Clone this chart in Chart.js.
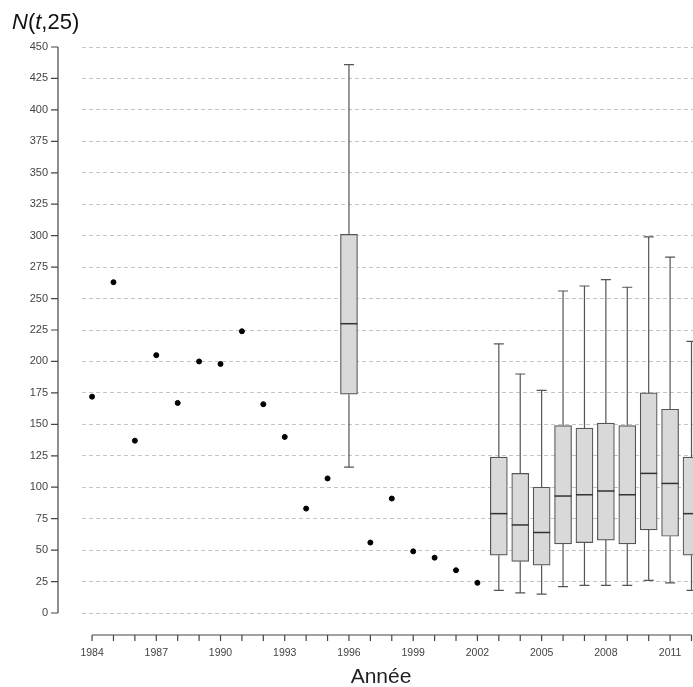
<!DOCTYPE html>
<html>
<head>
<meta charset="utf-8">
<script src="https://cdn.jsdelivr.net/npm/chart.js@4/dist/chart.umd.min.js"></script>
<style>
  html, body { margin: 0; padding: 0; background: #fff; overflow: hidden; }
  #wrap { width: 693px; height: 687px; position: relative; }
  canvas { display: block; }
</style>
</head>
<body>
<div id="wrap"><canvas id="chart"></canvas></div>
<script>
// Single years (points)
const pointYears = [1984, 1985, 1986, 1987, 1988, 1989, 1990, 1991, 1992, 1993, 1994, 1995,
                    1997, 1998, 1999, 2000, 2001, 2002];
const pointValues = [172, 263, 137, 205, 167, 200, 198, 224, 166, 140, 83, 107,
                     56, 91, 49, 44, 34, 24];

// Years with a distribution (boxplots)
const boxYears  = [1996, 2003, 2004, 2005, 2006, 2007, 2008, 2009, 2010, 2011, 2012];
const boxLow    = [116, 18, 16, 15, 21, 22, 22, 22, 26, 24, 18];
const boxQ1     = [174, 46, 41, 38, 55, 56, 58, 55, 66, 61, 46];
const boxMedian = [230, 79, 70, 64, 93, 94, 97, 94, 111, 103, 79];
const boxQ3     = [301, 124, 111, 100, 149, 147, 151, 149, 175, 162, 124];
const boxHigh   = [436, 214, 190, 177, 256, 260, 265, 259, 299, 283, 216];

const allYears = [];
for (let y = 1984; y <= 2012; y++) allYears.push(y);
const yTicks = [];
for (let v = 0; v <= 450; v += 25) yTicks.push(v);

const FONT = "'Liberation Sans', Arial, sans-serif";
const AXIS_COLOR = "#444";

// whiskers, medians, R-style detached axes and the title
const boxExtras = {
  id: "boxExtras",
  beforeDatasetsDraw(chart) {
    const { ctx, scales: { x, y } } = chart;
    ctx.save();
    ctx.strokeStyle = "#555";
    ctx.lineWidth = 1.2;
    boxYears.forEach((yr, i) => {
      const px = x.getPixelForValue(yr);
      ctx.beginPath();
      ctx.moveTo(px, y.getPixelForValue(boxQ3[i]));
      ctx.lineTo(px, y.getPixelForValue(boxHigh[i]));
      ctx.moveTo(px, y.getPixelForValue(boxQ1[i]));
      ctx.lineTo(px, y.getPixelForValue(boxLow[i]));
      ctx.moveTo(px - 5, y.getPixelForValue(boxHigh[i]));
      ctx.lineTo(px + 5, y.getPixelForValue(boxHigh[i]));
      ctx.moveTo(px - 5, y.getPixelForValue(boxLow[i]));
      ctx.lineTo(px + 5, y.getPixelForValue(boxLow[i]));
      ctx.stroke();
    });
    ctx.restore();
  },
  afterDatasetsDraw(chart) {
    const { ctx, scales: { x, y } } = chart;
    ctx.save();
    ctx.strokeStyle = "#333";
    ctx.lineWidth = 1.5;
    boxYears.forEach((yr, i) => {
      const px = x.getPixelForValue(yr);
      const py = y.getPixelForValue(boxMedian[i]);
      ctx.beginPath();
      ctx.moveTo(px - 8.5, py);
      ctx.lineTo(px + 8.5, py);
      ctx.stroke();
    });
    ctx.restore();
  },
  afterDraw(chart) {
    const { ctx, chartArea, scales: { x, y } } = chart;
    ctx.save();
    ctx.strokeStyle = AXIS_COLOR;
    ctx.lineWidth = 1.2;

    // y axis, pulled left of the plot region
    const ax = chartArea.left - 24;
    ctx.beginPath();
    ctx.moveTo(ax, y.getPixelForValue(0));
    ctx.lineTo(ax, y.getPixelForValue(450));
    yTicks.forEach(v => {
      const py = y.getPixelForValue(v);
      ctx.moveTo(ax - 7, py);
      ctx.lineTo(ax, py);
    });
    ctx.stroke();

    // x axis, pushed below the plot region
    const ay = chartArea.bottom + 22;
    ctx.beginPath();
    ctx.moveTo(x.getPixelForValue(1984), ay);
    ctx.lineTo(x.getPixelForValue(2012), ay);
    allYears.forEach(yr => {
      const px = x.getPixelForValue(yr);
      ctx.moveTo(px, ay);
      ctx.lineTo(px, ay + 6);
    });
    ctx.stroke();

    // title N(t,25), with italic N and t
    const parts = [["N", true], ["(", false], ["t", true], [",25)", false]];
    let tx = 12;
    ctx.fillStyle = "#111";
    ctx.textBaseline = "alphabetic";
    parts.forEach(([txt, it]) => {
      ctx.font = (it ? "italic " : "") + "22px " + FONT;
      ctx.fillText(txt, tx, 29);
      tx += ctx.measureText(txt).width;
    });

    // axis title, placed as in the original
    ctx.font = "21px " + FONT;
    ctx.fillStyle = "#222";
    ctx.textAlign = "center";
    ctx.fillText("Année", 381, 683);
    ctx.restore();
  }
};

new Chart(document.getElementById("chart"), {
  type: "bar",
  data: {
    datasets: [
      {
        type: "bar",
        data: boxYears.map((yr, i) => ({ x: yr, y: [boxQ1[i], boxQ3[i]] })),
        backgroundColor: "#d9d9d9",
        borderColor: "#555",
        borderWidth: 1.2,
        borderSkipped: false,
        barThickness: 17
      },
      {
        type: "scatter",
        data: pointYears.map((yr, i) => ({ x: yr, y: pointValues[i] })),
        backgroundColor: "#000",
        borderColor: "#000",
        pointRadius: 2.5,
        pointHoverRadius: 2.5
      }
    ]
  },
  options: {
    responsive: true,
    maintainAspectRatio: false,
    animation: false,
    layout: { autoPadding: false, padding: { top: 47, right: 0, left: 0, bottom: 0 } },
    plugins: {
      legend: { display: false },
      tooltip: { enabled: false }
    },
    scales: {
      x: {
        type: "linear",
        offset: false,
        min: 1983.53,
        max: 2012.07,
        afterBuildTicks: s => { s.ticks = allYears.map(v => ({ value: v })); },
        afterFit: s => { s.height = 74; s.paddingLeft = 0; s.paddingRight = 0; },
        grid: { display: false, drawTicks: false },
        border: { display: false },
        ticks: {
          autoSkip: false,
          maxRotation: 0,
          padding: 34,
          color: AXIS_COLOR,
          font: { family: FONT, size: 10.5 },
          callback: v => ((v - 1984) % 3 === 0 ? String(v) : "")
        }
      },
      y: {
        min: 0,
        max: 450,
        afterBuildTicks: s => { s.ticks = yTicks.map(v => ({ value: v })); },
        afterFit: s => { s.width = 82; },
        grid: { color: "#c4c4c4", lineWidth: 1, drawTicks: false },
        border: { display: false, dash: [4, 3] },
        ticks: {
          padding: 34,
          color: AXIS_COLOR,
          font: { family: FONT, size: 11 }
        }
      }
    }
  },
  plugins: [boxExtras]
});
</script>
</body>
</html>
